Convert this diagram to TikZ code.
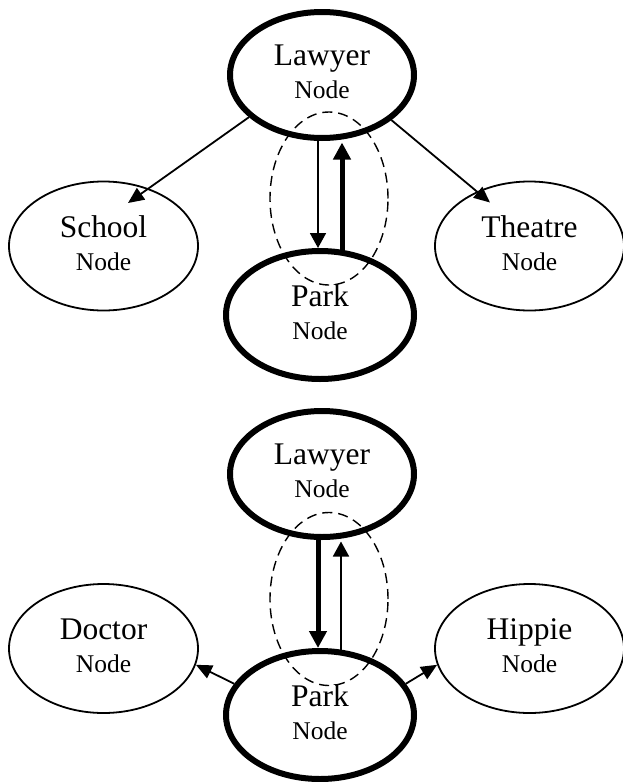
\documentclass[tikz,border=0pt]{standalone}
\usepackage{fontspec}
\setmainfont{Liberation Serif}
\usetikzlibrary{shapes.geometric,arrows.meta}
\newcommand{\mysubline}{{\fontsize{25.5}{33}\selectfont Node\rule[-6pt]{0pt}{6pt}}}
\begin{document}
\begin{tikzpicture}[x=1pt,y=-1pt,
  bignode/.style={ellipse, draw, line width=6pt, inner sep=0pt,
    minimum width=184pt, minimum height=126pt, align=center,
    font=\fontsize{31.5}{33}\selectfont},
  parknode/.style={bignode, minimum width=188pt, minimum height=128pt},
  sidenode/.style={ellipse, draw, line width=1.8pt, inner sep=0pt,
    minimum width=189pt, minimum height=129pt, align=center,
    font=\fontsize{31.5}{33}\selectfont},
  groupring/.style={ellipse, draw, dash pattern=on 10pt off 6pt, line width=1.4pt,
    minimum width=118pt, minimum height=173pt, inner sep=0pt},
  thinarrow/.style={line width=1.8pt, -{Triangle[length=15pt,width=16pt]}},
  thickarrow/.style={line width=5pt, -{Triangle[length=17pt,width=17pt]}},
  sidearrow/.style={line width=1.8pt, -{Triangle[length=16pt,width=14pt]}},
]
\useasboundingbox (0,0) rectangle (623,782);

% ---------- upper diagram ----------
\node[bignode]   (lawyer1)  at (322,75)    {Lawyer\\\mysubline};
\node[parknode]  (park1)    at (320,315)   {Park\\\mysubline};
\node[sidenode]  (school)   at (103.5,246) {School\\\mysubline};
\node[sidenode]  (theatre)  at (529.5,246) {Theatre\\\mysubline};
\node[groupring] (ring1)    at (329,198.5) {};

\draw[sidearrow]  (lawyer1.210) -- ([shift={(24.5,-43)}]school.center);
\draw[sidearrow]  (lawyer1.-33) -- ([shift={(-39.5,-43.5)}]theatre.center);
\draw[thinarrow]  ([xshift=-4pt]lawyer1.south) -- ([xshift=-2pt]park1.north);
\draw[thickarrow] ([xshift=22pt,yshift=-1.5pt]park1.north) -- ([xshift=20pt,yshift=-1.5pt]lawyer1.south);

% ---------- lower diagram ----------
\node[bignode]   (lawyer2)  at (322,474)   {Lawyer\\\mysubline};
\node[parknode]  (park2)    at (320,715)   {Park\\\mysubline};
\node[sidenode]  (doctor)   at (103.5,648.5) {Doctor\\\mysubline};
\node[sidenode]  (hippie)   at (529.5,648.5) {Hippie\\\mysubline};
\node[groupring] (ring2)    at (329,599)   {};

\draw[thickarrow] ([xshift=-4pt]lawyer2.south) -- ([xshift=-2pt]park2.north);
\draw[thinarrow]  ([xshift=21pt,yshift=-1.5pt]park2.north) -- ([xshift=19pt,yshift=-1.5pt]lawyer2.south);
\draw[sidearrow]  (park2.160) -- (doctor.-10);
\draw[sidearrow]  (park2.20) -- (hippie.190);
\end{tikzpicture}
\end{document}
